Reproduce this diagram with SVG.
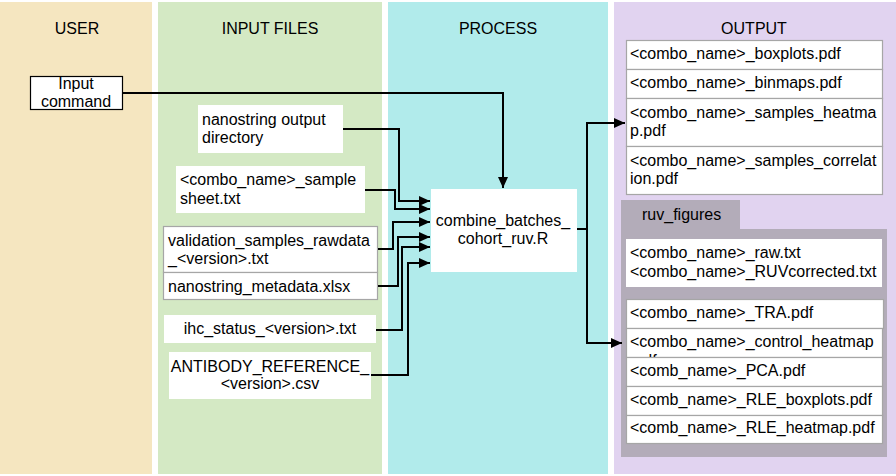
<svg xmlns="http://www.w3.org/2000/svg" width="896" height="476" viewBox="0 0 896 476">
<style>
text{font-family:"Liberation Sans",Arial,sans-serif;font-size:16px;fill:#000}
.c{text-anchor:middle}
.w{fill:#fff}
.cell{fill:#fff;stroke:#a6a6a6;stroke-width:1.2}
.conn{fill:none;stroke:#000;stroke-width:2}
</style>
<defs>
<marker id="ah" markerUnits="userSpaceOnUse" markerWidth="12" markerHeight="10" refX="11" refY="5" orient="auto">
<path d="M0,0 L11,5 L0,10 z" fill="#000"/>
</marker>
<clipPath id="ctrlclip"><rect x="626" y="329" width="257" height="28"/></clipPath>
</defs>
<rect width="896" height="476" fill="#fff"/>
<g id="lanes">
<rect x="0" y="2" width="152" height="472" fill="#f5e6c0"/>
<rect x="158" y="2" width="224" height="472" fill="#d4e9c4"/>
<rect x="388" y="2" width="220" height="472" fill="#b1ebeb"/>
<rect x="614" y="2" width="282" height="472" fill="#e1d3f0"/>
<text class="c" x="77" y="34">USER</text>
<text class="c" x="270" y="34">INPUT FILES</text>
<text class="c" x="498" y="34">PROCESS</text>
<text class="c" x="754" y="34">OUTPUT</text>
</g>
<g id="input-command">
<rect x="30.5" y="76.5" width="92" height="33" fill="#fff" stroke="#000" stroke-width="1.2"/>
<text class="c" x="76" y="89">Input</text>
<text class="c" x="76" y="107">command</text>
</g>
<g id="nanostring-dir">
<rect x="198" y="105" width="145" height="48" class="w"/>
<text x="202" y="125">nanostring output</text>
<text x="202" y="143">directory</text>
</g>
<g id="sample-sheet">
<rect x="176" y="166" width="189" height="47" class="w"/>
<text x="180" y="185">&lt;combo_name&gt;_sample</text>
<text x="180" y="204">sheet.txt</text>
</g>
<g id="validation-group">
<rect x="163.5" y="226.5" width="214" height="46" class="cell"/>
<rect x="163.5" y="272.5" width="214" height="27" class="cell"/>
<text x="168" y="246">validation_samples_rawdata</text>
<text x="168" y="264">_&lt;version&gt;.txt</text>
<text x="168" y="292">nanostring_metadata.xlsx</text>
</g>
<g id="ihc-status">
<rect x="164" y="315" width="212" height="28" class="w"/>
<text class="c" x="270" y="334">ihc_status_&lt;version&gt;.txt</text>
</g>
<g id="antibody-ref">
<rect x="169" y="352" width="202" height="47" class="w"/>
<text class="c" x="270" y="372">ANTIBODY_REFERENCE_</text>
<text class="c" x="270" y="389">&lt;version&gt;.csv</text>
</g>
<g id="combine-script">
<rect x="431" y="189" width="146" height="83" class="w"/>
<text class="c" x="503" y="226">combine_batches_</text>
<text class="c" x="503" y="244">cohort_ruv.R</text>
</g>
<g id="output-list">
<rect x="626.5" y="40.5" width="256" height="29" class="cell"/>
<rect x="626.5" y="69.5" width="256" height="29" class="cell"/>
<rect x="626.5" y="98.5" width="256" height="48" class="cell"/>
<rect x="626.5" y="146.5" width="256" height="48" class="cell"/>
<text x="630" y="59">&lt;combo_name&gt;_boxplots.pdf</text>
<text x="630" y="88">&lt;combo_name&gt;_binmaps.pdf</text>
<text x="630" y="118">&lt;combo_name&gt;_samples_heatma</text>
<text x="630" y="136">p.pdf</text>
<text x="630" y="166">&lt;combo_name&gt;_samples_correlat</text>
<text x="630" y="184">ion.pdf</text>
</g>
<g id="ruv-figures">
<rect x="621" y="200" width="119" height="30" fill="#b3acb9"/>
<rect x="621" y="229" width="266" height="228" fill="#b3acb9"/>
<text x="642" y="220">ruv_figures</text>
<rect x="626" y="239" width="256" height="48" class="w"/>
<text x="630" y="258">&lt;combo_name&gt;_raw.txt</text>
<text x="630" y="277">&lt;combo_name&gt;_RUVcorrected.txt</text>
<rect x="626.5" y="299.5" width="257" height="29" class="cell"/>
<text x="630" y="318">&lt;combo_name&gt;_TRA.pdf</text>
<rect x="626.5" y="328.5" width="256" height="29" class="cell"/>
<text x="630" y="347" clip-path="url(#ctrlclip)">&lt;combo_name&gt;_control_heatmap<tspan x="630" y="366">.pdf</tspan></text>
<rect x="626.5" y="357.5" width="256" height="29" class="cell"/>
<text x="630" y="376">&lt;comb_name&gt;_PCA.pdf</text>
<rect x="626.5" y="386.5" width="256" height="29" class="cell"/>
<text x="630" y="405">&lt;comb_name&gt;_RLE_boxplots.pdf</text>
<rect x="626.5" y="415.5" width="256" height="28" class="cell"/>
<text x="630" y="433">&lt;comb_name&gt;_RLE_heatmap.pdf</text>
</g>
<g id="connectors">
<polyline class="conn" points="123,93 503,93 503,188" marker-end="url(#ah)"/>
<polyline class="conn" points="343,129 399,129 399,201 430,201" marker-end="url(#ah)"/>
<polyline class="conn" points="365,190 395,190 395,209 430,209" marker-end="url(#ah)"/>
<polyline class="conn" points="378,249 393,249 393,222 430,222" marker-end="url(#ah)"/>
<polyline class="conn" points="378,286 398,286 398,237 430,237" marker-end="url(#ah)"/>
<polyline class="conn" points="376,330 402,330 402,247 430,247" marker-end="url(#ah)"/>
<polyline class="conn" points="371,375 408,375 408,263 430,263" marker-end="url(#ah)"/>
<polyline class="conn" points="577,229 587,229 587,123 625,123" marker-end="url(#ah)"/>
<polyline class="conn" points="587,229 587,343 622,343" marker-end="url(#ah)"/>
</g>
</svg>
